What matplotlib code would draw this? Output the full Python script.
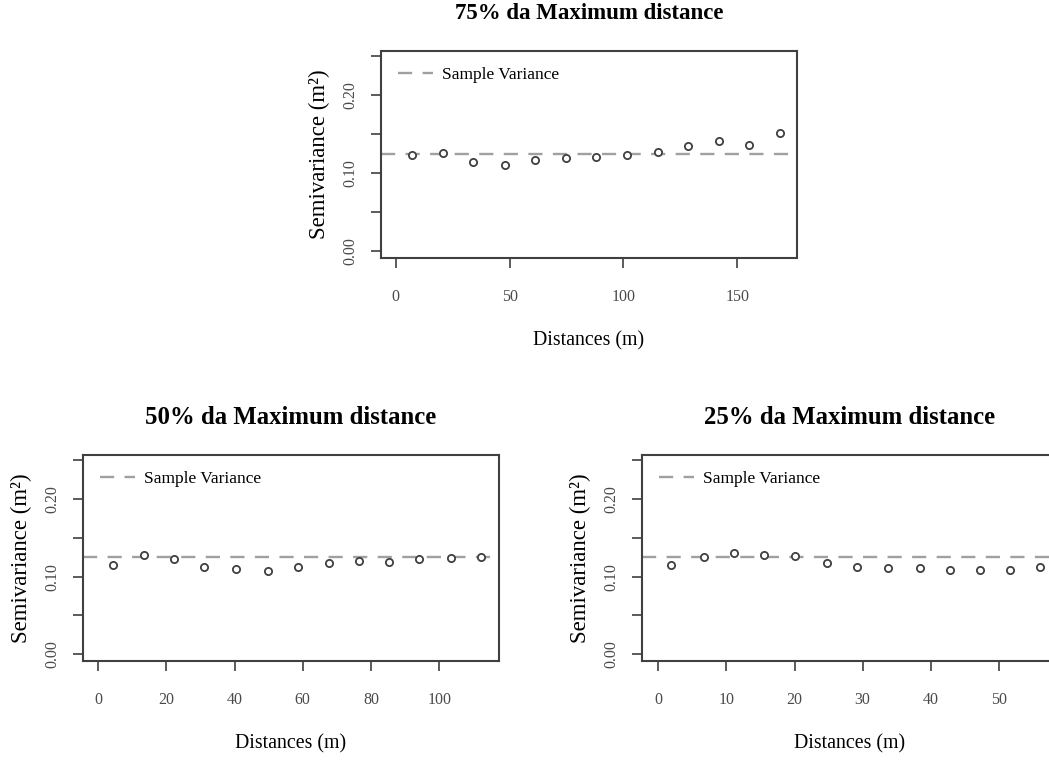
import matplotlib
matplotlib.use('Agg')
import matplotlib.pyplot as plt
import numpy as np

plt.rcParams['font.family'] = ['Liberation Serif', 'DejaVu Serif']

# semivariogram values
dist_75 = [7.3, 20.9, 34.1, 48.1, 61.1, 74.9, 87.9, 101.6, 115.2, 128.2, 142.2, 155.4, 168.9]
gamma_75 = [0.1235, 0.1255, 0.1139, 0.1101, 0.1165, 0.1191, 0.1213, 0.1239, 0.1268, 0.1355, 0.1410, 0.1368, 0.1519]

dist_50 = [4.4, 13.4, 22.2, 31.0, 40.5, 49.8, 58.7, 67.7, 76.5, 85.3, 94.1, 103.4, 112.3]
gamma_50 = [0.1149, 0.1277, 0.1222, 0.1120, 0.1094, 0.1077, 0.1120, 0.1171, 0.1204, 0.1192, 0.1222, 0.1235, 0.1255]

dist_25 = [1.8, 6.7, 11.1, 15.5, 20.1, 24.8, 29.2, 33.8, 38.4, 42.8, 47.2, 51.6, 56.0]
gamma_25 = [0.1149, 0.1248, 0.1299, 0.1277, 0.1264, 0.1179, 0.1120, 0.1107, 0.1107, 0.1086, 0.1086, 0.1086, 0.1128]

sample_var = 0.125
yticks = [0.0, 0.05, 0.10, 0.15, 0.20, 0.25]
ytick_labels = ['0.00', '', '0.10', '', '0.20', '']

W, H = 1049, 762
fig = plt.figure(figsize=(W / 100, H / 100), dpi=100)

dark = '#404040'


def panel(box, xs, ys, xlim, xticks, title, tsize):
    # box in pixels: left, top, right, bottom
    l, t, r, b = box
    ax = fig.add_axes([l / W, 1 - b / H, (r - l) / W, (b - t) / H])
    ax.axhline(sample_var, color='#a0a0a0', lw=1.7, ls=(0, (6.0, 4.4)),
               label='Sample Variance', zorder=1)
    ax.plot(xs, ys, ls='none', marker='o', ms=5.2, mfc='white', mec=dark,
            mew=1.3, zorder=3)
    ax.set_xlim(*xlim)
    ax.set_ylim(-0.009, 0.257)
    ax.set_xticks(xticks)
    ax.set_xticklabels([str(v) for v in xticks])
    ax.set_yticks(yticks)
    ax.set_yticklabels(ytick_labels, rotation=90, va='center')
    for s in ax.spines.values():
        s.set_color(dark)
        s.set_linewidth(1.5)
    ax.tick_params(axis='both', direction='out', length=7, width=1.2,
                   color=dark, labelcolor='#4a4a4a', labelsize=11.5)
    ax.tick_params(axis='x', pad=15)
    ax.tick_params(axis='y', pad=9)
    ax.text(0.5, 1 + 38 / (b - t), title, transform=ax.transAxes,
            ha='center', va='center', fontsize=tsize, fontweight='bold')
    ax.set_xlabel('Distances (m)', fontsize=14.3, labelpad=19)
    ax.set_ylabel('Semivariance (m²)', fontsize=16.5, labelpad=9)
    ax.legend(loc='center left', bbox_to_anchor=(17 / (r - l), 1 - 24 / (b - t)),
              frameon=False, borderpad=0, borderaxespad=0, handlelength=2.0,
              handletextpad=0.55, fontsize=12.5)
    return ax


panel((381, 51, 797, 258), dist_75, gamma_75, (-6.5, 176.3), [0, 50, 100, 150],
      '75% da Maximum distance', 16.5)
panel((83, 455, 499, 661), dist_50, gamma_50, (-4.4, 117.5), [0, 20, 40, 60, 80, 100],
      '50% da Maximum distance', 17.8)
panel((642, 455, 1058, 661), dist_25, gamma_25, (-2.4, 58.7), [0, 10, 20, 30, 40, 50],
      '25% da Maximum distance', 17.8)

fig.savefig('out.png', dpi=100)
